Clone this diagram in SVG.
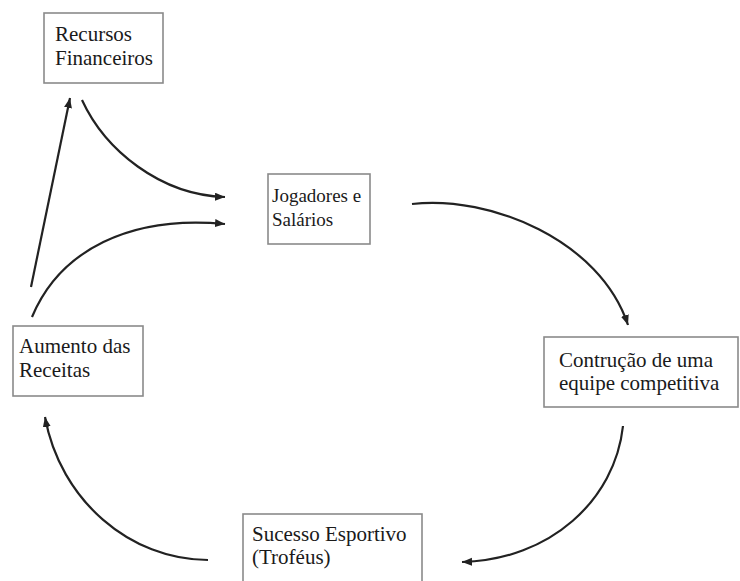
<svg xmlns="http://www.w3.org/2000/svg" width="740" height="581" viewBox="0 0 740 581">
<style>
.box{fill:#fff;stroke:#8a8a8a;stroke-width:1.6}
text{font-family:'Liberation Serif','DejaVu Serif',serif;font-size:21px;fill:#1a1a1a}
.c{fill:none;stroke:#222;stroke-width:2.2}
</style>
<defs>
<marker id="ah" markerUnits="userSpaceOnUse" markerWidth="12" markerHeight="10" refX="10" refY="4" orient="auto">
<path d="M0,0 L10,4 L0,8 Z" fill="#222"/>
</marker>
</defs>
<rect width="740" height="581" fill="#fff"/>
<g id="connectors">
<path class="c" d="M31,287 L70,98" marker-end="url(#ah)"/>
<path class="c" d="M82,100 C105,150 160,195 225,197" marker-end="url(#ah)"/>
<path class="c" d="M32,317 C60,250 130,215 225,224" marker-end="url(#ah)"/>
<path class="c" d="M412,204 C490,195 600,240 628,325" marker-end="url(#ah)"/>
<path class="c" d="M623,426 C615,500 550,560 462,562" marker-end="url(#ah)"/>
<path class="c" d="M208,560 C130,560 60,500 45,417" marker-end="url(#ah)"/>
</g>
<g id="recursos">
<rect class="box" x="44" y="13" width="119" height="70"/>
<text font-family="Liberation Serif, serif"><tspan x="55" y="41">Recursos</tspan><tspan x="55" y="65">Financeiros</tspan></text>
</g>
<g id="jogadores">
<rect class="box" x="268" y="174" width="102" height="70"/>
<text font-family="Liberation Serif, serif" style="font-size:19px"><tspan x="272" y="202">Jogadores e</tspan><tspan x="272" y="226">Salários</tspan></text>
</g>
<g id="construcao">
<rect class="box" x="544" y="337" width="194" height="70"/>
<text font-family="Liberation Serif, serif"><tspan x="559" y="367">Contrução de uma</tspan><tspan x="559" y="390">equipe competitiva</tspan></text>
</g>
<g id="sucesso">
<rect class="box" x="243" y="514" width="179" height="80"/>
<text font-family="Liberation Serif, serif"><tspan x="252" y="541">Sucesso Esportivo</tspan><tspan x="252" y="564">(Troféus)</tspan></text>
</g>
<g id="aumento">
<rect class="box" x="13" y="326" width="130" height="70"/>
<text font-family="Liberation Serif, serif"><tspan x="19" y="353">Aumento das</tspan><tspan x="19" y="377">Receitas</tspan></text>
</g>
</svg>
